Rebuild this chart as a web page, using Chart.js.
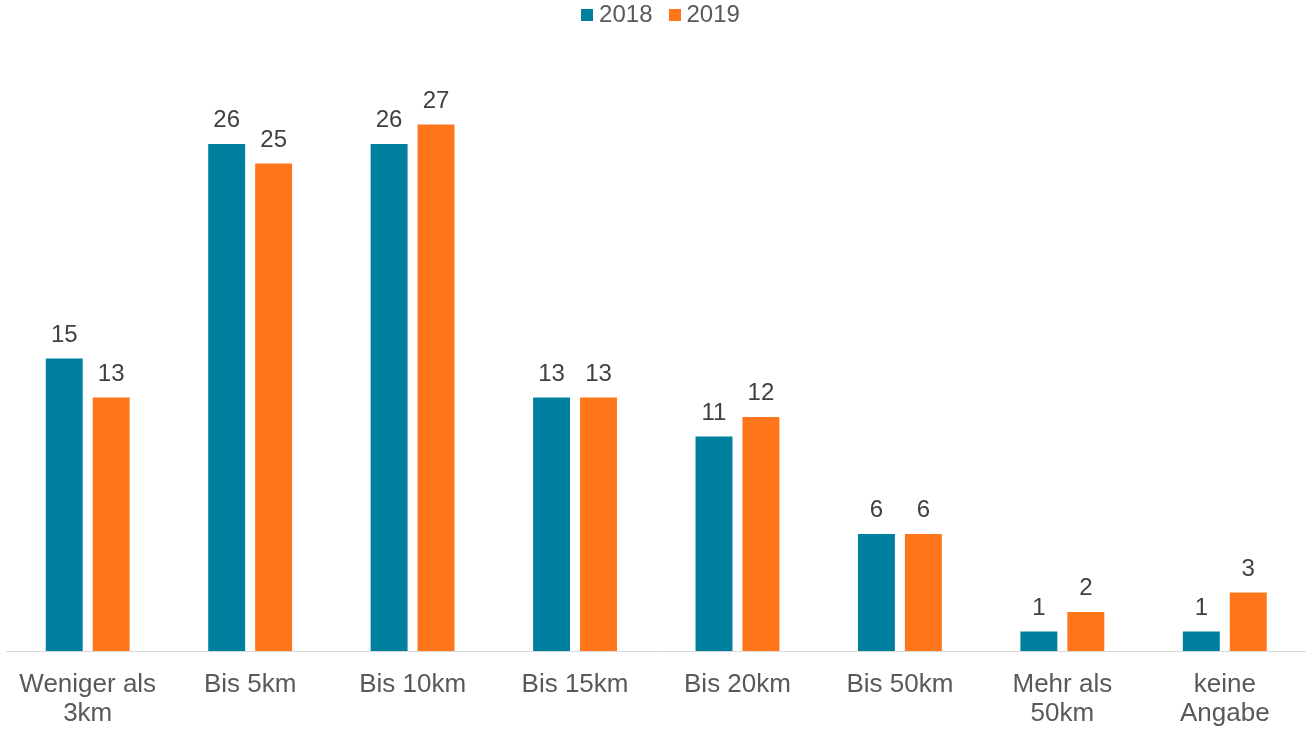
<!DOCTYPE html>
<html>
<head>
<meta charset="utf-8">
<script src="https://cdn.jsdelivr.net/npm/chart.js@4/dist/chart.umd.min.js"></script>
<style>
  html, body { margin: 0; padding: 0; background: #ffffff; }
  #wrap { width: 1306px; height: 730px; position: relative; }
</style>
</head>
<body>
<div id="wrap"><canvas id="c"></canvas></div>
<script>
const categories = [
  ['Weniger als', '3km'],
  ['Bis 5km'],
  ['Bis 10km'],
  ['Bis 15km'],
  ['Bis 20km'],
  ['Bis 50km'],
  ['Mehr als', '50km'],
  ['keine', 'Angabe']
];
const seriesNames = ['2018', '2019'];
const values2018 = [15, 26, 26, 13, 11, 6, 1, 1];
const values2019 = [13, 25, 27, 13, 12, 6, 2, 3];
const yMax = 30;
const colors = ['#00809f', '#ff751a'];

const FONT = "'Liberation Sans', Arial, sans-serif";

function squareIcon(color) {
  const c = document.createElement('canvas');
  c.width = 12; c.height = 12;
  const g = c.getContext('2d');
  g.fillStyle = color;
  g.fillRect(0, 0, 12, 12);
  return c;
}
const icons = colors.map(squareIcon);

const dataLabels = {
  id: 'dataLabels',
  afterDatasetsDraw(chart) {
    const ctx = chart.ctx;
    ctx.save();
    ctx.font = '24px ' + FONT;
    ctx.fillStyle = '#404040';
    ctx.textAlign = 'center';
    ctx.textBaseline = 'alphabetic';
    chart.data.datasets.forEach((ds, i) => {
      const meta = chart.getDatasetMeta(i);
      meta.data.forEach((bar, j) => {
        ctx.fillText(String(ds.data[j]), bar.x, bar.y - 17);
      });
    });
    ctx.restore();
  }
};

const legendTweak = {
  id: 'legendTweak',
  beforeLayout(chart) {
    const lg = chart.legend;
    if (lg && !lg._patched) {
      const orig = lg.fit;
      lg.fit = function () { orig.call(this); this.height = 66; };
      lg._patched = true;
    }
  },
  afterLayout(chart) {
    const lg = chart.legend;
    if (lg) {
      lg.top -= 19; lg.bottom -= 19;
      lg.left += 8; lg.right += 8;
    }
  }
};

new Chart(document.getElementById('c'), {
  type: 'bar',
  data: {
    labels: categories,
    datasets: [
      { label: seriesNames[0], data: values2018, backgroundColor: colors[0],
        barPercentage: 0.787, categoryPercentage: 0.578 },
      { label: seriesNames[1], data: values2019, backgroundColor: colors[1],
        barPercentage: 0.787, categoryPercentage: 0.578 }
    ]
  },
  options: {
    responsive: true,
    maintainAspectRatio: false,
    animation: false,
    layout: { padding: { left: 5, right: 0, top: 0, bottom: 0 } },
    plugins: {
      legend: {
        position: 'top',
        align: 'center',
        labels: {
          usePointStyle: true,
          pointStyleWidth: 0.0001,
          boxWidth: 0, boxHeight: 12, padding: 22,
          color: '#595959',
          font: { family: FONT, size: 24 },
          generateLabels(chart) {
            const items = Chart.defaults.plugins.legend.labels.generateLabels(chart);
            items.forEach((it, i) => { it.pointStyle = icons[i]; });
            return items;
          }
        }
      },
      tooltip: { enabled: false },
      title: { display: false }
    },
    scales: {
      x: {
        grid: { display: false, drawTicks: false },
        border: { display: true, color: '#d9d9d9', width: 1 },
        afterFit(scale) { scale.height = 79; },
        ticks: {
          color: '#595959',
          padding: 19,
          maxRotation: 0,
          autoSkip: false,
          font: { family: FONT, size: 26, lineHeight: 29 / 26 }
        }
      },
      y: {
        display: false,
        min: 0,
        max: yMax
      }
    }
  },
  plugins: [dataLabels, legendTweak]
});
</script>
</body>
</html>
